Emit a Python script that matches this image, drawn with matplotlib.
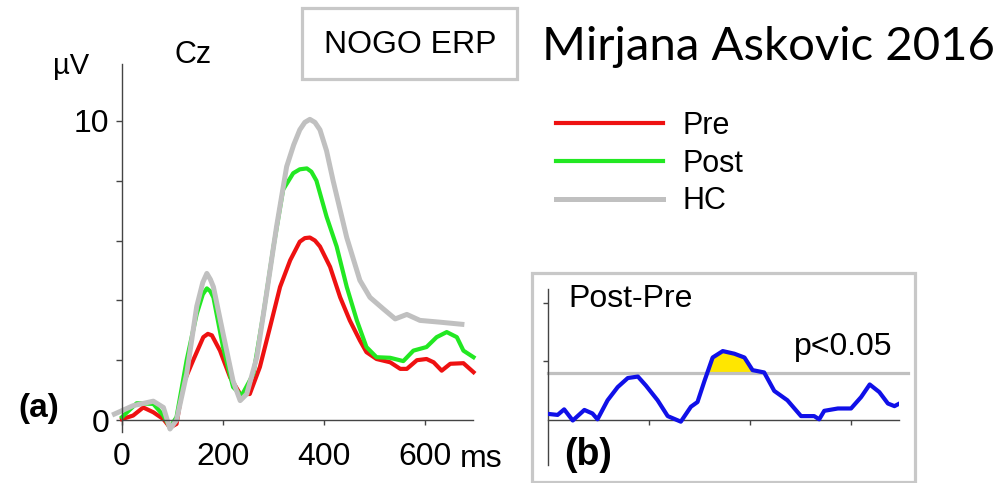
import matplotlib
matplotlib.use('Agg')
from matplotlib import pyplot as plt
from matplotlib.patches import Rectangle

# ERP at Cz (ms, microvolts)
t_pre = [0, 22, 42, 62, 82, 95, 108, 121, 141, 161, 170, 178, 194, 214, 234, 253, 273, 293,
         313, 333, 352, 362, 372, 382, 392, 412, 432, 451, 471, 484, 504, 531, 551, 564, 584,
         603, 617, 633, 650, 676, 696]
v_pre = [0.03, 0.15, 0.42, 0.26, 0.03, -0.25, -0.13, 1.2, 2.0, 2.77, 2.88, 2.83, 2.32, 1.43,
         0.87, 0.87, 1.77, 3.1, 4.45, 5.34, 5.96, 6.08, 6.1, 6.0, 5.8, 5.12, 4.1, 3.33, 2.66,
         2.27, 2.04, 1.93, 1.71, 1.71, 2.0, 2.04, 1.93, 1.65, 1.88, 1.9, 1.6]

t_post = [0, 29, 62, 82, 95, 108, 128, 148, 160, 168, 175, 181, 200, 220, 237, 260, 280, 300,
          319, 339, 352, 366, 375, 385, 405, 425, 445, 465, 484, 504, 531, 557, 577, 603, 623,
          643, 663, 676, 696]
v_post = [0.1, 0.56, 0.54, 0.15, -0.25, 0.1, 2.0, 3.55, 4.2, 4.4, 4.3, 4.1, 2.44, 1.1, 0.82,
          1.54, 3.55, 5.8, 7.7, 8.25, 8.38, 8.41, 8.3, 8.0, 6.8, 5.8, 4.45, 3.33, 2.44, 2.1,
          2.08, 1.97, 2.32, 2.44, 2.77, 2.94, 2.77, 2.32, 2.1]

t_hc = [-15, 22, 62, 82, 95, 108, 128, 148, 160, 168, 175, 181, 200, 220, 234, 247, 267, 286,
        306, 326, 340, 352, 362, 372, 382, 392, 405, 418, 445, 471, 491, 517, 541, 564, 590,
        630, 673]
v_hc = [0.2, 0.48, 0.63, 0.42, -0.3, 0.0, 1.54, 3.8, 4.6, 4.9, 4.7, 4.45, 2.9, 1.3, 0.65,
        0.87, 2.1, 4.2, 6.46, 8.47, 9.2, 9.7, 9.95, 10.05, 9.95, 9.7, 9.0, 8.0, 6.1, 4.67, 4.1,
        3.72, 3.38, 3.53, 3.33, 3.27, 3.2]

# Post - Pre difference wave
t_diff = [3, 19, 32, 49, 72, 88, 98, 118, 138, 158, 178, 194, 217, 237, 263, 283, 296, 310,
          326, 346, 369, 389, 405, 428, 448, 474, 501, 527, 537, 547, 574, 600, 620, 637, 656,
          673, 686, 696]
v_diff = [0.2, 0.17, 0.36, -0.02, 0.34, 0.22, 0.02, 0.67, 1.12, 1.43, 1.48, 1.17, 0.67, 0.13,
          -0.06, 0.45, 0.61, 1.34, 2.13, 2.35, 2.26, 2.13, 1.7, 1.62, 0.99, 0.67, 0.13, 0.13,
          0.02, 0.31, 0.39, 0.39, 0.78, 1.21, 0.95, 0.56, 0.47, 0.56]
p_thresh = 1.6

x_ticks = [200, 400, 600]
x_ticklabels = ['200', '400', '600']
y_ticks = [0, 2, 4, 6, 8, 10]
y_ticklabels = ['0', '', '', '', '', '10']

W, H = 1007, 483
plt.rcParams['font.family'] = ['Liberation Sans', 'DejaVu Sans']


def fx(px):
    return px / W


def fy(py):
    return 1 - py / H


def main():
    fig = plt.figure(figsize=(W / 100, H / 100), dpi=100)
    axis_col = '#444444'

    # panel (a)
    ax = fig.add_axes([fx(122), fy(432), (473 - 122) / W, (432 - 64) / H])
    ax.set_xlim(0, 695)
    ax.set_ylim(-0.4, 11.9)
    l_pre, = ax.plot(t_pre, v_pre, color='#ee1111', lw=3.0, clip_on=False)
    l_post, = ax.plot(t_post, v_post, color='#22e822', lw=3.0, clip_on=False)
    l_hc, = ax.plot(t_hc, v_hc, color='#c0c0c0', lw=3.6, clip_on=False)
    for s in ['top', 'right']:
        ax.spines[s].set_visible(False)
    ax.spines['bottom'].set_position(('data', 0))
    for s in ['left', 'bottom']:
        ax.spines[s].set_color(axis_col)
        ax.spines[s].set_linewidth(1.0)
    ax.set_yticks(y_ticks)
    ax.set_yticklabels(y_ticklabels)
    ax.set_xticks([0] + x_ticks)
    ax.set_xticklabels(['0'] + x_ticklabels)
    ax.tick_params(axis='y', direction='out', length=4.3, width=1.0, color=axis_col,
                   labelsize=23, pad=5)
    ax.tick_params(axis='x', direction='out', length=3.6, width=1.0, color=axis_col,
                   labelsize=23, pad=12.5)
    fig.text(fx(460), fy(467), 'ms', fontsize=23, va='baseline', ha='left')

    fig.text(fx(53), fy(74), '\u00b5V', fontsize=21, va='baseline', ha='left')
    fig.text(fx(174), fy(63), 'Cz', fontsize=22, va='baseline', ha='left')
    fig.text(fx(39), fy(409), '(a)', fontsize=24, fontweight='bold', va='center', ha='center')

    # NOGO ERP box and title
    fig.add_artist(Rectangle((fx(302), fy(79)), (517 - 302) / W, (79 - 8) / H,
                             transform=fig.transFigure, fill=False,
                             edgecolor='#c8c8c8', lw=2.3))
    fig.text(fx(410), fy(53), 'NOGO ERP', fontsize=23, va='baseline', ha='center')
    fig.text(fx(542), fy(60), 'Mirjana Askovic 2016', fontsize=34, family='Lato',
             va='baseline', ha='left')

    fig.legend(handles=[l_pre, l_post, l_hc], labels=['Pre', 'Post', 'HC'],
               loc='upper left', bbox_to_anchor=(fx(556), fy(111)), frameon=False,
               fontsize=22, handlelength=3.5, handletextpad=0.65, labelspacing=0.25,
               borderpad=0, borderaxespad=0)

    # panel (b)
    fig.add_artist(Rectangle((fx(532), fy(482)), (915 - 532) / W, (482 - 273) / H,
                             transform=fig.transFigure, fill=False,
                             edgecolor='#c8c8c8', lw=2.3))
    axb = fig.add_axes([fx(548), fy(465), (899 - 548) / W, (465 - 289) / H])
    axb.set_xlim(0, 695)
    axb.set_ylim(-1.54, 4.47)
    axb.fill_between(t_diff, p_thresh, v_diff, where=[v >= p_thresh for v in v_diff],
                     interpolate=True, color='#ffe600', lw=0, zorder=1)
    axb.axhline(p_thresh, xmin=0, xmax=1.026, color='#c0c0c0', lw=2.3, clip_on=False,
                zorder=2)
    axb.plot(t_diff, v_diff, color='#1010e8', lw=3.0, zorder=3)
    for s in ['top', 'right']:
        axb.spines[s].set_visible(False)
    axb.spines['bottom'].set_position(('data', 0))
    for s in ['left', 'bottom']:
        axb.spines[s].set_color(axis_col)
        axb.spines[s].set_linewidth(1.0)
    axb.set_xticks(x_ticks)
    axb.set_xticklabels([])
    axb.set_yticks([2, 4])
    axb.set_yticklabels([])
    axb.tick_params(direction='out', length=3.6, width=1.0, color=axis_col)
    fig.text(fx(568), fy(307), 'Post-Pre', fontsize=23, va='baseline', ha='left')
    fig.text(fx(892), fy(355), 'p<0.05', fontsize=23, va='baseline', ha='right')
    fig.text(fx(588), fy(455), '(b)', fontsize=27, fontweight='bold', va='center',
             ha='center')

    fig.savefig('out.png', dpi=100)


if __name__ == '__main__':
    main()
